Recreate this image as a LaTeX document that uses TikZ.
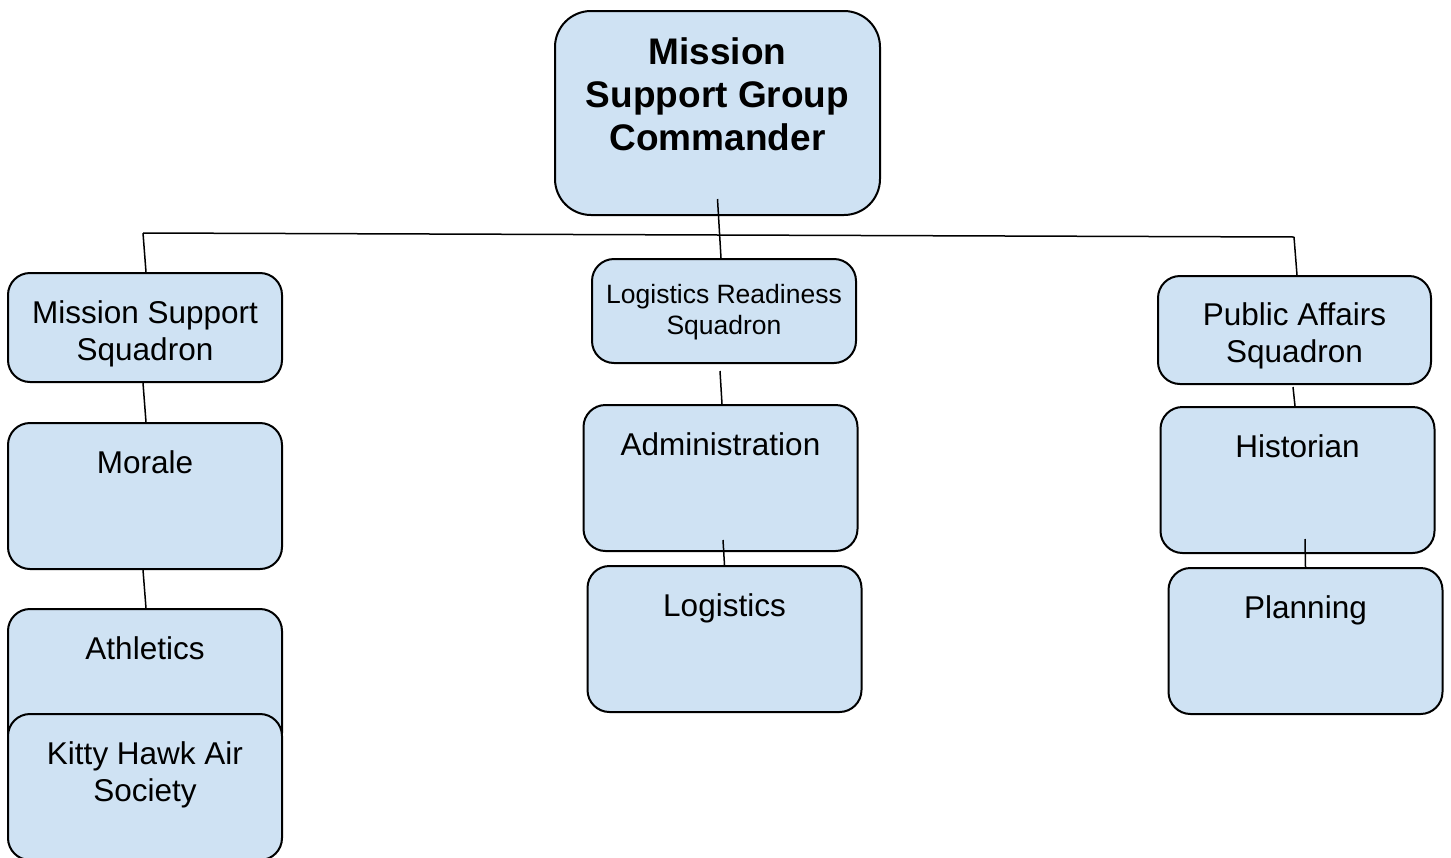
\documentclass[tikz,border=0pt]{standalone}
\usepackage{fontspec}
\setmainfont{Liberation Sans}
\usepackage{tikz}
\definecolor{boxblue}{HTML}{CFE2F3}
\tikzstyle{every node}=[font=\fontsize{15.75}{18.5}\selectfont]
\tikzstyle{unit}=[rectangle,
                  draw=black,
                  line width=1pt,
                  fill=boxblue,
                  rounded corners=11pt,
                  align=center,
                  anchor=north,
                  inner ysep=5pt,
                  minimum width=137pt]
\tikzstyle{section}=[unit,
                     inner ysep=13.7pt,
                     text height=11.3pt,
                     text depth=34.3pt]
\tikzstyle{link}=[line width=0.75pt]

\begin{document}
\begin{tikzpicture}[x=0.5pt,y=-0.5pt]
\useasboundingbox (0,0) rectangle (1451,857);
% top
\node (cmd) [unit,minimum width=162.5pt,rounded corners=18pt,
             inner ysep=13pt,text height=56.5pt,text depth=19.5pt,
             font=\bfseries\fontsize{18.5}{21.5}\selectfont] at (717.5,10) {Mission\\Support Group\\Commander};
% squadrons
\node (mss) [unit,text height=38.5pt,text depth=6pt] at (145,272) {Mission Support\\Squadron};
\node (lrs) [unit,minimum width=132pt,text height=32.75pt,text depth=9.25pt,
             font=\fontsize{13.25}{15.5}\selectfont] at (724,258) {Logistics Readiness\\Squadron};
\node (pas) [unit,minimum width=136.5pt,text height=38pt,text depth=6pt] at (1294.5,275) {Public Affairs\\Squadron};
% sections
\node (morale)    [section] at (145,422) {Morale};
\node (athletics) [section] at (145,608) {Athletics};
\node (kitty)     [section,text height=29.8pt,text depth=15.8pt] at (145,713) {Kitty Hawk Air\\Society};
\node (admin)     [section] at (720.5,404) {Administration};
\node (logistics) [section] at (724.5,565) {Logistics};
\node (historian) [section] at (1297.5,406) {Historian};
\node (planning)  [section] at (1305.5,567) {Planning};
% bar
\coordinate (barL) at (143,233);
\coordinate (barR) at (1294,237);
\path (barL) edge[link] (barR);
\path ([yshift=8.5pt]cmd.south) edge[link] ([xshift=-1.5pt]lrs.north);
\path (barL) edge[link] ([xshift=0.5pt]mss.north);
\path (barR) edge[link] ([xshift=1.25pt]pas.north);
\path ([xshift=-1pt]mss.south) edge[link] ([xshift=0.5pt]morale.north);
\path ([xshift=-1pt]morale.south) edge[link] ([xshift=0.5pt]athletics.north);
\path ([xshift=-2pt,yshift=-3.5pt]lrs.south) edge[link] ([xshift=0.75pt]admin.north);
\path ([xshift=1.25pt,yshift=6pt]admin.south) edge[link] (logistics.north);
\path ([xshift=-0.75pt,yshift=-1pt]pas.south) edge[link] ([xshift=-1.25pt]historian.north);
\path ([xshift=3.75pt,yshift=7.5pt]historian.south) edge[link] (planning.north);
\end{tikzpicture}
\end{document}
